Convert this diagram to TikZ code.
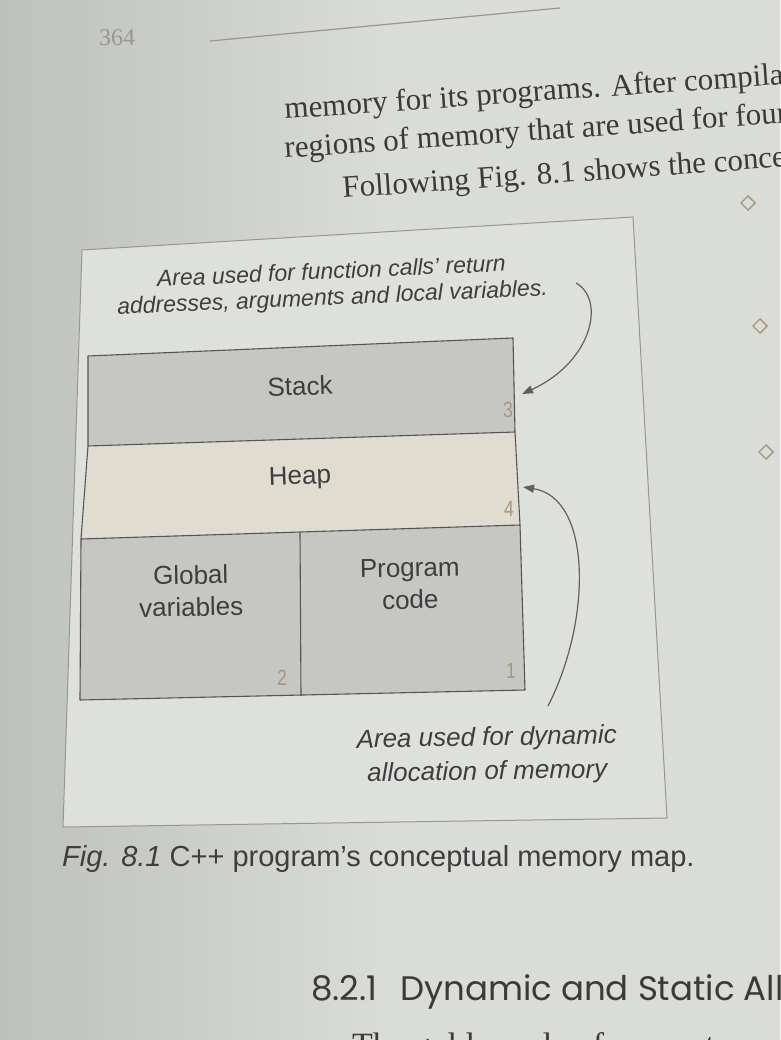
\documentclass[tikz,border=0pt]{standalone}
\usepackage{fontspec}
\setmainfont{Liberation Serif}
\setsansfont{Liberation Sans}
\newfontfamily\headfont{Poppins}
\usetikzlibrary{arrows.meta}
\definecolor{paper}{RGB}{218,220,215}
\definecolor{paperdark}{RGB}{190,192,188}
\definecolor{framein}{RGB}{222,224,220}
\definecolor{framecol}{RGB}{150,150,148}
\definecolor{stackfill}{RGB}{198,199,195}
\definecolor{heapfill}{RGB}{224,221,208}
\definecolor{mapline}{RGB}{85,85,85}
\definecolor{ink}{RGB}{62,62,64}
\definecolor{numcol}{RGB}{168,150,122}
\definecolor{bodyink}{RGB}{58,58,58}
\definecolor{pagenum}{RGB}{150,150,148}
\tikzset{
  lbl/.style={font=\sffamily\fontsize{26}{32}\selectfont, text=ink, align=center, inner sep=0pt},
  num/.style={font=\sffamily\fontsize{22}{24}\selectfont, text=numcol, inner sep=0pt, xscale=0.8},
  ann/.style={font=\sffamily\itshape\fontsize{23}{26}\selectfont, text=ink, align=center, inner sep=0pt},
  annb/.style={font=\sffamily\itshape\fontsize{26}{34}\selectfont, text=ink, align=center, inner sep=0pt},
  body/.style={font=\rmfamily\fontsize{31}{38}\selectfont, text=bodyink, inner sep=0pt, anchor=base west},
  maplinestyle/.style={draw=mapline, line width=1.1pt, line join=round},
  curvearrow/.style={draw=gray!75!black, line width=1.2pt, -{Triangle[length=11pt,width=8pt]}},
  bullet/.style={draw=numcol, line width=1.3pt, rotate=45, minimum size=10pt, inner sep=0pt}
}
\begin{document}
\begin{tikzpicture}[x=1pt,y=-1pt]
\useasboundingbox (0,0) rectangle (780,1040);
\shade[left color=paperdark, right color=paper, middle color=paper] (0,0) rectangle (780,1040);

% page header
\node[font=\rmfamily\fontsize{24}{28}\selectfont, text=pagenum, inner sep=0pt] (pnum) at (117,38) {364};
\coordinate (hl1) at (210,41);
\coordinate (hl2) at (560,8);
\draw[pagenum, line width=1.2pt] (hl1) -- (hl2);

% body text above
\node[body, rotate=4] (t1) at (285,119) {memory for its programs. After compilation};
\node[body, rotate=4] (t2) at (285,158) {regions of memory that are used for four};
\node[body, rotate=4] (t3) at (343,198) {Following Fig. 8.1 shows the conceptual};

% bullets at right
\node[bullet] (b1) at (748,203) {};
\node[bullet] (b2) at (760,326) {};
\node[bullet] (b3) at (766,452) {};

% frame
\draw[framecol, fill=framein, line width=1pt] (82,250) -- (633,217) -- (667,818) -- (63,827) -- cycle;

% memory map
\coordinate (m1) at (88,356);
\coordinate (m2) at (513,338);
\coordinate (m3) at (515,432);
\coordinate (m4) at (88,446);
\coordinate (m5) at (520,525);
\coordinate (m6) at (81,539);
\coordinate (m7) at (525,690);
\coordinate (m8) at (80,700);
\coordinate (d1) at (300,533);
\coordinate (d2) at (301,696);
\fill[stackfill] (m1) -- (m2) -- (m3) -- (m4) -- cycle;
\fill[heapfill] (m4) -- (m3) -- (m5) -- (m6) -- cycle;
\fill[stackfill] (m6) -- (m5) -- (m7) -- (m8) -- cycle;
\draw[maplinestyle] (m1) -- (m2) -- (m3) -- (m5) -- (m7) -- (m8) -- (m6) -- (m4) -- cycle;
\draw[maplinestyle] (m4) -- (m3);
\draw[maplinestyle] (m6) -- (m5);
\draw[maplinestyle] (d1) -- (d2);

\node[lbl, rotate=2] (stack) at (300,386) {Stack};
\node[num] (n3) at (508,410) {3};
\node[lbl, rotate=2] (heap) at (300,478) {Heap};
\node[num] (n4) at (509,509) {4};
\node[lbl, rotate=1] (glob) at (191,591) {Global\\variables};
\node[lbl, rotate=1] (prog) at (410,584) {Program\\code};
\node[num] (n2) at (282,678) {2};
\node[num] (n1) at (511,671) {1};

% annotations
\node[ann, rotate=2.5] (ann1) at (332,286) {Area used for function calls' return\\addresses, arguments and local variables.};
\node[annb, rotate=1] (ann2) at (487,756) {Area used for dynamic\\allocation of memory};

\coordinate (s1) at (576,283);
\coordinate (e1) at (522,394);
\coordinate (s2) at (548,706);
\coordinate (e2) at (523,487);
\draw[curvearrow] (s1) .. controls (606,300) and (592,362) .. (e1);
\draw[curvearrow] (s2) .. controls (592,620) and (592,498) .. (e2);

% caption
\node[font=\sffamily\fontsize{29}{32}\selectfont, text=ink, anchor=base west, inner sep=0pt] (cap) at (62,866) {\textit{Fig. 8.1} C++ program's conceptual memory map.};

% heading
\node[font=\headfont\fontsize{34}{40}\selectfont, text=bodyink, anchor=base west, inner sep=0pt] (headnum) at (311,1000) {8.2.1};
\node[font=\headfont\fontsize{34}{40}\selectfont, text=bodyink, anchor=base west, inner sep=0pt] (head) at (400,1000) {Dynamic and Static Allocation};
\node[font=\rmfamily\fontsize{34}{40}\selectfont, text=bodyink, anchor=base west, inner sep=0pt] (t4) at (352,1056) {The golden rule of computers};
\end{tikzpicture}
\end{document}
